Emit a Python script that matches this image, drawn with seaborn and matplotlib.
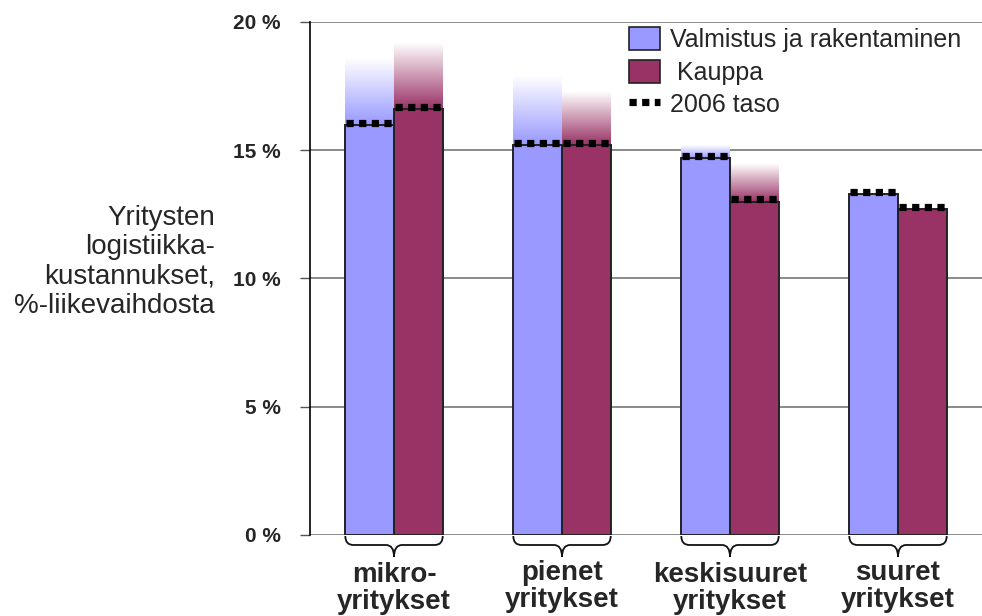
import numpy as np
import pandas as pd
import matplotlib
matplotlib.use("Agg")
import matplotlib.pyplot as plt
from matplotlib.path import Path
from matplotlib.patches import PathPatch, Patch
from matplotlib.colors import to_rgb
from matplotlib.lines import Line2D
import matplotlib.transforms as mtransforms
import seaborn as sns

# Company size classes (x axis)
sizes = ["mikro-\nyritykset", "pienet\nyritykset", "keskisuuret\nyritykset", "suuret\nyritykset"]
# Sectors (hue)
sectors = ["Valmistus ja rakentaminen", "Kauppa"]
# 2006 level of logistics costs, % of turnover
level_2006_valmistus = [16.0, 15.2, 14.7, 13.3]
level_2006_kauppa = [16.6, 15.2, 13.0, 12.7]
# Upper end of the estimated range (faded part of the bar)
upper_valmistus = [18.6, 17.9, 15.2, 13.3]
upper_kauppa = [19.2, 17.3, 14.5, 12.7]
# Y-axis ticks
y_ticks = [0, 5, 10, 15, 20]
y_tick_labels = ["0 %", "5 %", "10 %", "15 %", "20 %"]

colors = ["#9999FF", "#993366"]
FONT = ["Liberation Sans", "DejaVu Sans"]

sns.set_style("white")
plt.rcParams["font.family"] = FONT

df = pd.DataFrame({
    "koko": sizes * 2,
    "ala": [sectors[0]] * 4 + [sectors[1]] * 4,
    "taso": level_2006_valmistus + level_2006_kauppa,
})

fig = plt.figure(figsize=(9.82, 6.16), dpi=100)
ax = fig.add_axes([0.3157, 0.1315, 0.6843, 0.8328])

# gridlines behind the bars
for t in y_ticks:
    ax.axhline(t, color="#808080", lw=1.3, zorder=0)

sns.barplot(data=df, x="koko", y="taso", hue="ala", hue_order=sectors,
            palette=colors, width=0.58, saturation=1, edgecolor="#222222",
            linewidth=1.4, ax=ax, legend=False, zorder=2)

bw = 0.29
uppers = [upper_valmistus, upper_kauppa]
levels = [level_2006_valmistus, level_2006_kauppa]

# faded range above each bar: solid colour fading to white
for k in range(2):
    rgb = np.array(to_rgb(colors[k]))
    for i in range(4):
        lo, hi = levels[k][i], uppers[k][i]
        if hi <= lo:
            continue
        frac = np.linspace(0, 1, 64)[:, None]
        grad = rgb[None, :] * (1 - frac) + frac
        x0 = i - bw + k * bw
        ax.imshow(grad[:, None, :], extent=[x0, x0 + bw, lo, hi], origin="lower",
                  aspect="auto", interpolation="bilinear", zorder=1.5)

# 2006 level markers: thick square dots across each bar top
DOT_LW = 5.2
DOT_DASH = (1.0, 0.75)
for k in range(2):
    for i in range(4):
        x0 = i - bw + k * bw
        ax.plot([x0 + 0.005, x0 + bw], [levels[k][i] + 0.08] * 2, color="black",
                lw=DOT_LW, dashes=DOT_DASH, dash_capstyle="butt", zorder=4)

ax.set_xlim(-0.5, 3.5)
ax.set_ylim(0, 20)

for s in ["top", "right", "bottom"]:
    ax.spines[s].set_visible(False)
ax.spines["left"].set_color("black")
ax.spines["left"].set_linewidth(1.2)
ax.set_yticks(y_ticks)
ax.set_yticklabels(y_tick_labels, fontsize=15, fontweight="bold")
ax.tick_params(axis="y", direction="out", length=7, width=1, color="#555555",
               pad=14, left=True)
ax.set_xticks([])
ax.set_xlabel("")
ax.set_ylabel("")

fig.text(215 / 982, 1 - 262 / 616,
         "Yritysten\nlogistiikka-\nkustannukset,\n%-liikevaihdosta",
         ha="right", va="center", fontsize=20, linespacing=1.18)

# curly braces under each group and the group labels
trans = mtransforms.blended_transform_factory(ax.transData, ax.transAxes)
px = 1 / (0.8328 * 616)  # one pixel in axes-height units
last_baseline_px = [74, 72, 74, 72]
for i, lab in enumerate(sizes):
    L, R, C = i - bw, i + bw, i
    r = 0.048
    y0, y1, y2 = -1 * px, -10 * px, -22 * px
    verts = [(L, y0), (L, y1), (L + r, y1),
             (C - r, y1), (C, y1), (C, y2),
             (C, y1), (C + r, y1),
             (R - r, y1), (R, y1), (R, y0)]
    codes = [Path.MOVETO, Path.CURVE3, Path.CURVE3,
             Path.LINETO, Path.CURVE3, Path.CURVE3,
             Path.CURVE3, Path.CURVE3,
             Path.LINETO, Path.CURVE3, Path.CURVE3]
    ax.add_patch(PathPatch(Path(verts, codes), fill=False, lw=1.3,
                           edgecolor="#111111", transform=trans, clip_on=False))
    ax.text(C, -last_baseline_px[i] * px, lab, transform=trans, ha="center",
            va="baseline", fontsize=20, fontweight="bold", linespacing=1.04)

handles = [Patch(facecolor=colors[0], edgecolor="#222222", lw=1.2),
           Patch(facecolor=colors[1], edgecolor="#222222", lw=1.2),
           Line2D([], [], color="black", lw=DOT_LW, dashes=DOT_DASH)]
leg = fig.legend(handles, [sectors[0], " " + sectors[1], "2006 taso"],
                 loc="upper left", bbox_to_anchor=(629 / 982, 1 - 27 / 616),
                 frameon=False, fontsize=18, handlelength=1.24, handleheight=1.04,
                 handletextpad=0.4, labelspacing=0.3, borderpad=0,
                 borderaxespad=0)

fig.savefig("out.png", dpi=100)
